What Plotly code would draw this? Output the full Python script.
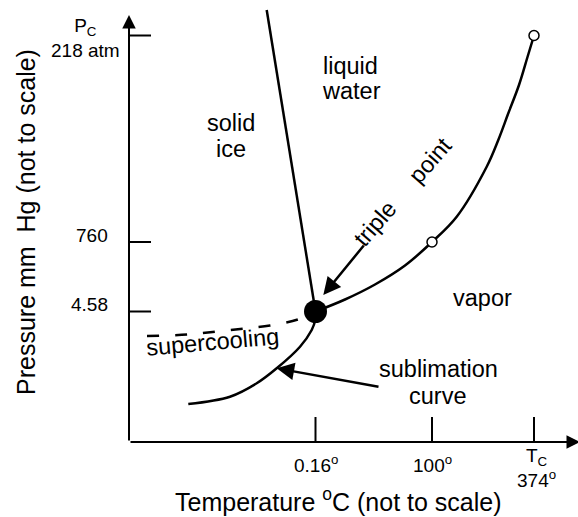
import plotly.graph_objects as go

# Schematic coordinates (diagram is "not to scale")
temp_tick_pos = [186.5, 303, 405]
temp_tick_labels = ["0.16<sup>o</sup>", "100<sup>o</sup>", "T<sub>C</sub><br>374<sup>o</sup>"]
press_tick_pos = [130.5, 200, 406.5]
press_tick_labels = ["4.58", "760", "P<sub>C</sub><br>218 atm"]

triple_point = [186.5, 130.5]
boiling_point = [303, 200]
critical_point = [405, 406.5]

# liquid-vapor (vaporization) curve
vap_x = [186.5, 216, 246, 276, 303, 327.7, 357.7, 369.3, 379.3, 390, 398.5, 405]
vap_y = [130.5, 142.5, 157.5, 176.5, 200, 225.3, 275.3, 302, 328.7, 357, 385, 406.5]
# solid-vapor (sublimation) curve
sub_x = [59.3, 101, 127.7, 147.7, 171, 182.7, 187]
sub_y = [38, 45.3, 58.7, 73.7, 95.3, 112, 124]
# supercooled liquid (dashed)
sup_x = [18, 59, 88, 115, 141, 169, 186.5]
sup_y = [106, 107.5, 110.5, 113.5, 116.5, 122.5, 130.5]
# solid-liquid (melting) line
melt_x = [137.7, 186.5]
melt_y = [432, 130.5]

FONT = "Liberation Sans, Arial, Helvetica, sans-serif"
LW = 2.5
REGION_SIZE = 23.5
TICK_SIZE = 19
TITLE_SIZE = 25

fig = go.Figure()

def line(x, y, dash="solid", w=LW, shape="spline"):
    fig.add_trace(go.Scatter(x=x, y=y, mode="lines",
                             line=dict(color="black", width=w, dash=dash, shape=shape, smoothing=1.0),
                             hoverinfo="skip", showlegend=False))

# ticks
tx, ty = [], []
for t in temp_tick_pos:
    tx += [t, t, None]; ty += [0, 25, None]
for t in press_tick_pos:
    tx += [0, 22, None]; ty += [t, t, None]
line(tx, ty, w=2, shape="linear")

line(melt_x, melt_y, shape="linear")
line(vap_x, vap_y)
line(sub_x, sub_y)
line(sup_x, sup_y, dash="12px,16px")

fig.add_trace(go.Scatter(x=[boiling_point[0], critical_point[0]], y=[boiling_point[1], critical_point[1]],
                         mode="markers",
                         marker=dict(size=10, color="white", line=dict(color="black", width=1.5)),
                         showlegend=False, hoverinfo="skip"))
fig.add_trace(go.Scatter(x=[triple_point[0]], y=[triple_point[1]], mode="markers",
                         marker=dict(size=23, color="black"), showlegend=False, hoverinfo="skip"))

ann = []
def arrow(x0, y0, x1, y1, w, size):
    ann.append(dict(x=x1, y=y1, ax=x0, ay=y0, xref="x", yref="y", axref="x", ayref="y", text="",
                    showarrow=True, arrowhead=2, arrowwidth=w, arrowsize=size,
                    arrowcolor="black", standoff=0))

# axes with arrowheads
arrow(0, 0, 451, 0, 2, 1.35)
arrow(0, 0, 0, 427, 2, 1.35)
# pointer arrows
arrow(236, 198, 194.3, 147, 2.5, 1.4)
arrow(251, 55, 147.7, 73.7, 2.5, 1.4)

def text(x, y, s, size=REGION_SIZE, angle=0, xanchor="center"):
    ann.append(dict(x=x, y=y, xref="x", yref="y", text=s, showarrow=False, textangle=angle,
                    xanchor=xanchor, yanchor="middle", align="center",
                    font=dict(family=FONT, size=size, color="black")))

# temperature tick labels
for t, s in zip(temp_tick_pos, temp_tick_labels):
    if "<br>" in s:
        text(t + 2, -26, s, size=TICK_SIZE)
    else:
        text(t, -22, s, size=TICK_SIZE)

# pressure tick labels
for t, s in zip(press_tick_pos, press_tick_labels):
    if "<br>" in s:
        text(-44, t - 2, s, size=TICK_SIZE)
    else:
        text(-19, t + 7, s, size=TICK_SIZE, xanchor="right")

# axis titles
text(-103, 220, "Pressure mm  Hg (not to scale)", size=TITLE_SIZE, angle=-90)
text(209, -58, "Temperature <sup>o</sup>C (not to scale)", size=TITLE_SIZE)

# region labels
text(221.5, 376, "liquid")
text(222.5, 351, "water")
text(101.5, 319, "solid")
text(102, 293, "ice")
text(353.5, 144, "vapor")
text(309, 73, "sublimation")
text(308.5, 46, "curve")
text(83, 100, "supercooling", angle=-5)
text(273.5, 250.3, "triple     point", angle=-49)

fig.update_layout(
    width=578, height=517, autosize=False,
    margin=dict(l=0, r=0, t=0, b=0),
    paper_bgcolor="white", plot_bgcolor="white",
    xaxis=dict(range=[-129, 449], visible=False, fixedrange=True),
    yaxis=dict(range=[-75, 442], visible=False, fixedrange=True),
    annotations=ann,
)

fig.write_html("out.html", config={"displayModeBar": False, "staticPlot": True},
               post_script="document.body.style.margin='0';")
